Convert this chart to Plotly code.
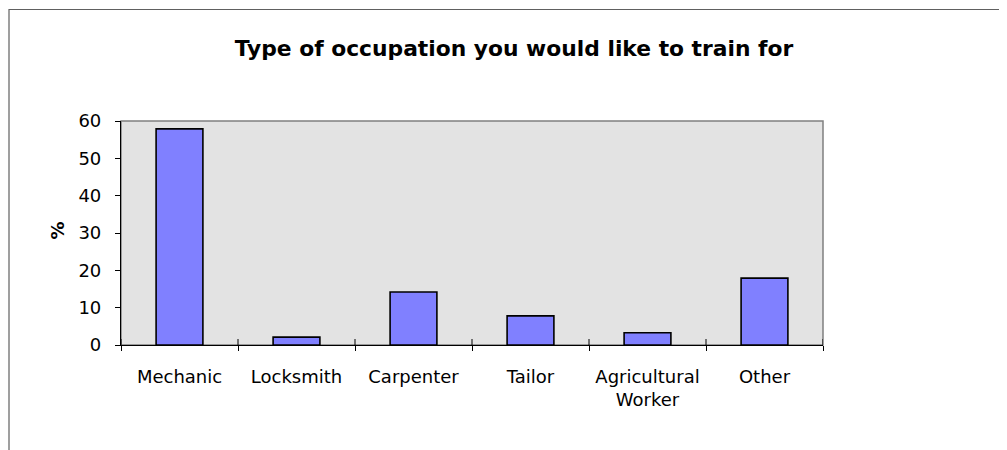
import plotly.graph_objects as go

categories = ["Mechanic", "Locksmith", "Carpenter", "Tailor", "Agricultural<br>Worker", "Other"]
percent = [57.9, 2.1, 14.2, 7.8, 3.3, 17.9]
y_ticks = [0, 10, 20, 30, 40, 50, 60]

# page body has an 8px margin; compensate so the figure lands where the reference is
OFF = 8
W, H = 1007 - OFF, 450 - OFF
L, R, T, B = 121 - OFF, 823 - OFF, 121 - OFF, 345 - OFF

fig = go.Figure()
fig.add_trace(go.Bar(
    x=categories, y=percent,
    marker=dict(color="#8080ff", line=dict(color="black", width=1.6)),
    hoverinfo="x+y",
))

font = "DejaVu Sans, Arial, sans-serif"

pw, ph = R - L, B - T
def px(xp): return (xp - OFF - L) / pw
def py(yp): return (B - (yp - OFF)) / ph

shapes = []
shapes.append(dict(type="rect", xref="paper", yref="paper", x0=0, x1=1, y0=0, y1=1,
                   line=dict(color="#808080", width=1.5), layer="below"))
shapes.append(dict(type="rect", xref="paper", yref="paper",
                   x0=px(9), x1=px(1030), y0=py(480), y1=py(9.5),
                   line=dict(color="#606060", width=1.2), fillcolor="rgba(0,0,0,0)"))
for i in range(len(categories) + 1):
    shapes.append(dict(type="line", xref="x", yref="y", ysizemode="pixel", yanchor=0,
                       x0=i - 0.5, x1=i - 0.5, y0=0, y1=6,
                       line=dict(color="black", width=1)))

fig.update_layout(
    width=W, height=H,
    margin=dict(l=L, r=W - R, t=T, b=H - B),
    paper_bgcolor="white",
    plot_bgcolor="#e3e3e3",
    bargap=0.6,
    showlegend=False,
    title=dict(text="<b>Type of occupation you would like to train for</b>",
               x=(514 - OFF) / W, xanchor="center", xref="container",
               y=1 - (48 - OFF) / H, yanchor="middle", yref="container",
               font=dict(family=font, size=21.8, color="black")),
    xaxis=dict(type="category", tickson="boundaries", ticks="outside", ticklen=5,
               tickcolor="black", tickwidth=1, showline=True, linecolor="black", linewidth=1.2,
               showgrid=False, range=[-0.5, len(categories) - 0.5],
               tickfont=dict(family=font, size=18, color="black"),
               ticklabelstandoff=15),
    yaxis=dict(range=[0, 60], tickvals=y_ticks, ticks="outside", ticklen=5,
               tickcolor="black", tickwidth=1, showline=True, linecolor="black", linewidth=1.2,
               showgrid=False, zeroline=False,
               tickfont=dict(family=font, size=18, color="black"),
               ticklabelstandoff=10),
    shapes=shapes,
    annotations=[dict(text="<b>%</b>", textangle=-90, xref="paper", yref="paper",
                      x=px(56.5), y=py(231), xanchor="center", yanchor="middle",
                      showarrow=False, font=dict(family=font, size=18, color="black"))],
)

fig.write_html("out.html")
